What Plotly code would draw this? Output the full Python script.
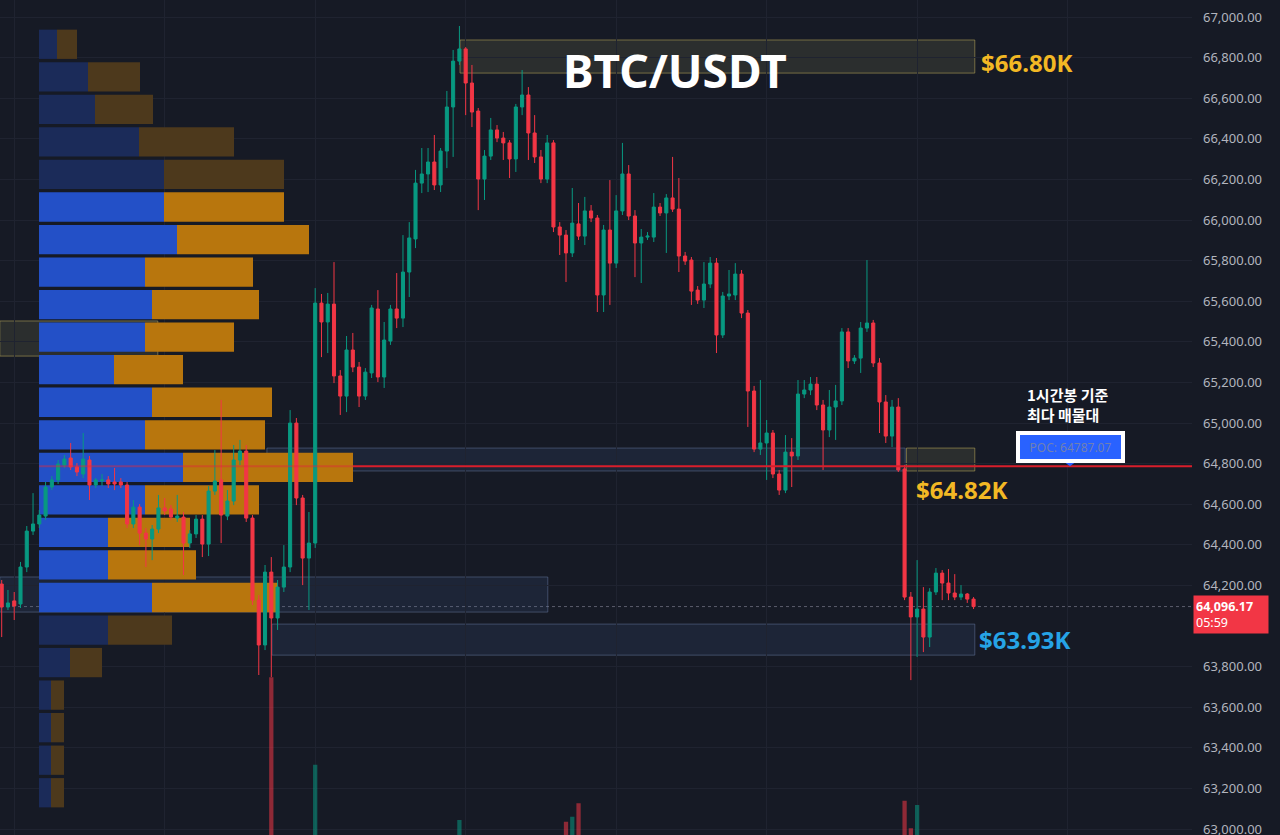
import plotly.graph_objects as go

# ---------------- data ----------------
opens = [64207,64094,64124,64109,64291,64468,64503,64542,64685,64720,64793,64828,64784,64749,64818,64695,64715,64720,64710,64710,
         64695,64503,64586,64458,64429,64478,64582,64577,64532,64537,64409,64454,64527,64404,64665,64720,64542,64616,64818,64862,
         64532,64128,63907,64266,64040,64192,64291,65000,64631,64335,64409,65591,65498,65586,65232,65133,65360,65276,65133,65247,
         65562,65227,65404,65562,65517,65744,65907,66182,66227,66286,66173,66340,66557,66783,66843,66675,66537,66202,66315,66444,
         66404,66380,66301,66557,66616,66429,66311,66202,66380,65966,65926,65838,65981,65921,66045,66010,65631,65951,65788,66045,
         66227,66020,65887,65916,65916,66064,66035,66109,66054,65823,65803,65655,65606,65685,65788,65434,65626,65631,65734,65542,
         65158,64872,64902,64951,64749,64670,64857,64838,65143,65163,65192,65089,64966,65079,65109,65449,65306,65320,65468,65493,
         65296,65104,64936,65079,64774,64143,64045,64084,63946,64168,64261,64212,64163,64143,64158,64133]
highs = [64227,64178,64168,64316,64493,64655,64572,64710,64739,64818,64843,64902,64803,64951,64838,64729,64749,64739,64779,64729,
         64710,64621,64601,64483,64498,64646,64631,64596,64646,64562,64473,64547,64547,64690,64867,65114,64670,64892,64917,64892,
         64547,64153,64301,64340,64227,64399,65064,65025,64646,64562,65665,65636,65641,65793,65261,65429,65444,65301,65271,65582,
         65655,65498,65582,65739,65926,65990,66247,66355,66355,66419,66355,66636,66838,66956,66852,66764,66552,66345,66503,66468,
         66434,66394,66572,66739,66655,66517,66345,66419,66394,65990,65951,66158,66084,66114,66074,66025,65976,66197,66123,66380,
         66271,66049,65956,65941,66133,66084,66128,66311,66207,65843,65818,65675,65793,65818,65813,65646,65754,65788,65754,65557,
         65183,65212,65015,64966,64769,64941,64926,65212,65212,65227,65227,65114,65163,65188,65468,65468,65335,65498,65803,65508,
         65320,65138,65114,65123,64793,64168,64325,64192,64187,64286,64276,64281,64256,64202,64163,64143]
lows = [63946,64079,64030,64089,64266,64449,64483,64522,64670,64700,64779,64769,64739,64729,64621,64680,64690,64680,64670,64680,
        64483,64483,64399,64291,64325,64458,64547,64522,64513,64252,64385,64434,64340,64345,64646,64409,64522,64596,64793,64513,
        64104,63759,63882,63749,63981,64168,64266,64596,64202,64079,64385,65325,65345,65197,65040,65054,65251,65079,65114,65222,
        65202,65173,65385,65468,65473,65621,65862,66133,66138,66148,66138,66256,66311,66764,66517,66458,66049,66099,66296,66384,
        66296,66207,66237,66517,66296,66281,66182,66182,65941,65828,65695,65818,65902,65877,65990,65547,65547,65582,65764,66025,
        66000,65719,65690,65902,65892,66020,65838,66040,65744,65779,65582,65587,65567,65665,65345,65419,65606,65606,65517,64981,
        64857,64843,64720,64729,64646,64655,64685,64818,65123,65138,65064,64769,64931,64917,65089,65271,65291,65247,65449,65276,
        64951,64902,64882,64759,64128,63734,63848,63872,63897,64153,64128,64128,64128,64128,64114,64084]
closes = [64094,64114,64099,64291,64468,64503,64547,64685,64720,64798,64823,64784,64759,64823,64695,64720,64720,64700,64700,64695,
          64503,64586,64458,64429,64478,64582,64567,64537,64542,64409,64454,64527,64404,64665,64715,64547,64616,64818,64862,64532,
          64128,63907,64266,64040,64192,64291,65000,64631,64335,64409,65591,65498,65586,65232,65133,65360,65276,65133,65251,65567,
          65227,65409,65562,65517,65744,65912,66182,66227,66286,66173,66340,66557,66783,66843,66675,66532,66202,66315,66444,66404,
          66380,66301,66557,66616,66429,66311,66202,66380,65966,65926,65838,65985,65921,66045,66010,65631,65951,65788,66045,66227,
          66020,65887,65916,65921,66064,66035,66109,66054,65823,65798,65650,65606,65685,65788,65434,65626,65636,65734,65542,65158,
          64872,64902,64951,64749,64670,64857,64838,65143,65163,65192,65089,64966,65079,65109,65449,65306,65320,65468,65493,65296,
          65104,64936,65079,64769,64143,64045,64084,63946,64168,64261,64212,64163,64143,64158,64133,64096.17]

# volume of the candles whose bars reach into view (candle index -> volume)
visible_volume = {43: 489, 50: 384, 73: 318, 90: 316, 91: 322, 92: 338, 144: 341, 145: 308, 146: 336}

# volume profile (top row first): buy and sell volume per price row
profile_high = 66946
profile_low = 63099
profile_buy = [18, 49, 56, 100, 125, 125, 138, 106, 113, 106, 75, 113, 106, 144, 106, 69, 69, 113, 69, 31, 12, 12, 12, 12]
profile_sell = [20, 52, 58, 95, 120, 120, 132, 108, 107, 89, 69, 120, 120, 170, 114, 82, 88, 126, 64, 32, 13, 13, 13, 13]
in_value_area = [False]*5 + [True]*13 + [False]*6

poc_price = 64787.07
last_price = 64096.17

# price-scale labels shown (64,000 sits under the last-price tag)
price_ticks = [63000, 63200, 63400, 63600, 63800, 64200, 64400, 64600, 64800, 65000, 65200, 65400,
               65600, 65800, 66000, 66200, 66400, 66600, 66800, 67000]

# drawn zones: (start candle, end candle, low, high, kind)
zones = [
    (73.1, 155.2, 66724, 66887, "gold"),
    (-0.3, 24.9, 65330, 65503, "gold"),
    (42.3, 144.1, 64764, 64877, "blue"),
    (144.3, 155.2, 64764, 64877, "gold"),
    (-0.3, 87.1, 64069, 64242, "blue"),
    (43.1, 155.2, 63857, 64010, "blue"),
]

# ---------------- styling ----------------
BG = "#161a25"
GRID = "#1f2330"
UP = "#089981"
DN = "#f23645"

N = len(opens)
idx = list(range(N))

fig = go.Figure()

# volume profile (base x axis, drawn beneath candles)
nrows = len(profile_buy)
row_h = (profile_high - profile_low) / nrows
row_centers = [profile_high - row_h * (k + 0.5) for k in range(nrows)]
buy_cols = ["#2350c7" if v else "#1b2b59" for v in in_value_area]
sell_cols = ["#b8760d" if v else "#4d391c" for v in in_value_area]
fig.add_trace(go.Bar(y=row_centers, x=profile_buy, orientation="h", width=row_h * 0.9,
                     marker=dict(color=buy_cols, line=dict(width=0)), xaxis="x", yaxis="y",
                     hoverinfo="skip", showlegend=False))
fig.add_trace(go.Bar(y=row_centers, x=profile_sell, base=profile_buy, orientation="h", width=row_h * 0.9,
                     marker=dict(color=sell_cols, line=dict(width=0)), xaxis="x", yaxis="y",
                     hoverinfo="skip", showlegend=False))

# volume bars
vols = [visible_volume.get(i) for i in idx]
vcols = ["rgba(8,153,129,0.55)" if closes[i] >= opens[i] else "rgba(242,54,69,0.55)" for i in idx]
fig.add_trace(go.Bar(x=idx, y=vols, marker=dict(color=vcols, line=dict(width=0)), width=0.68,
                     xaxis="x2", yaxis="y3", hoverinfo="skip", showlegend=False))

# candles
fig.add_trace(go.Candlestick(x=idx, open=opens, high=highs, low=lows, close=closes,
                             xaxis="x2", yaxis="y",
                             increasing=dict(line=dict(color=UP, width=1), fillcolor=UP),
                             decreasing=dict(line=dict(color=DN, width=1), fillcolor=DN),
                             whiskerwidth=0, showlegend=False, hoverinfo="skip"))

shapes = []
for x0, x1, lo, hi, kind in zones:
    if kind == "gold":
        fc, lc = "rgba(120,118,80,0.22)", "rgba(185,170,90,0.55)"
    else:
        fc, lc = "rgba(70,100,150,0.16)", "rgba(110,130,170,0.45)"
    shapes.append(dict(type="rect", xref="x2", yref="y", x0=x0, x1=x1, y0=lo, y1=hi,
                       fillcolor=fc, line=dict(color=lc, width=1), layer="below"))

poc_row = min(range(nrows), key=lambda k: abs(row_centers[k] - poc_price))
poc_end = profile_buy[poc_row] + profile_sell[poc_row]
shapes.append(dict(type="line", xref="x", yref="y", x0=0, x1=poc_end, y0=poc_price, y1=poc_price,
                   line=dict(color="rgba(225,40,60,0.45)", width=2), layer="above"))
shapes.append(dict(type="line", xref="x", yref="y", x0=poc_end, x1=1153, y0=poc_price, y1=poc_price,
                   line=dict(color="#d91e2b", width=2), layer="above"))
shapes.append(dict(type="line", xref="paper", yref="y", x0=0, x1=1, y0=last_price, y1=last_price,
                   line=dict(color="rgba(150,150,165,0.55)", width=1, dash="dot"), layer="below"))
# small pointer under the POC tag
shapes.append(dict(type="path", xref="paper", yref="y",
                   path="M %f,%f L %f,%f L %f,%f Z" % (1064 / 1192, poc_price + 22, 1076 / 1192, poc_price + 22,
                                                       1070 / 1192, poc_price),
                   fillcolor="#2962ff", line=dict(width=0), layer="above"))

GOLD = "#f2b824"
annotations = [
    dict(xref="paper", yref="paper", x=0.566, y=0.916, xanchor="center", yanchor="middle", text="BTC/USDT",
         showarrow=False, font=dict(family="Noto Sans", size=46, color="white", weight=700)),
    dict(xref="x2", yref="y", x=155.2, y=66805, xanchor="left", xshift=4, yshift=-6, text="$66.80K",
         showarrow=False, font=dict(family="Noto Sans", size=24, color=GOLD, weight=700)),
    dict(xref="x2", yref="y", x=144.3, y=64675, xanchor="left", xshift=8, text="$64.82K",
         showarrow=False, font=dict(family="Noto Sans", size=24, color=GOLD, weight=700)),
    dict(xref="x2", yref="y", x=155.2, y=63933, xanchor="left", xshift=2, text="$63.93K",
         showarrow=False, font=dict(family="Noto Sans", size=24, color="#26a4e6", weight=700)),
    dict(xref="paper", yref="paper", x=1025 / 1192, y=1 - 404 / 835, xanchor="left", yanchor="middle",
         align="left", text="1시간봉 기준<br>최다 매물대", showarrow=False,
         font=dict(family="Noto Sans CJK KR", size=15, color="white", weight=700)),
    dict(xref="paper", yref="paper", x=1070 / 1192, y=1 - 447 / 835, xanchor="center", yanchor="middle",
         text="POC: 64787.07", showarrow=False,
         bgcolor="#2962ff", bordercolor="white", borderwidth=4, borderpad=3, width=95, height=18,
         font=dict(family="Noto Sans", size=12, color="#6f80b3")),
    dict(xref="paper", yref="y", x=1193 / 1192, y=last_price, xanchor="left", yanchor="middle", yshift=-8,
         text="<b>64,096.17</b><br>05:59", align="left", showarrow=False, bgcolor="#f23645",
         width=70, borderpad=2, font=dict(family="Noto Sans", size=12.5, color="white")),
]

fig.update_layout(
    width=1280, height=835, margin=dict(l=0, r=88, t=0, b=0, autoexpand=False),
    paper_bgcolor=BG, plot_bgcolor=BG, barmode="overlay", showlegend=False,
    xaxis=dict(range=[-39, 1153], visible=False, fixedrange=True, rangeslider=dict(visible=False),
               automargin=False),
    xaxis2=dict(overlaying="x", range=[-0.27, 189.84], tickvals=[2, 26, 50, 74, 98, 122, 146, 170],
                showticklabels=False, ticks="", showgrid=True, gridcolor=GRID, gridwidth=1,
                zeroline=False, rangeslider=dict(visible=False), automargin=False),
    yaxis=dict(side="right", range=[62971, 67084], tickvals=price_ticks, tickformat=",.2f",
               showgrid=True, gridcolor=GRID, zeroline=False, ticks="", ticklabelstandoff=10,
               ticklabeloverflow="allow", automargin=False,
               tickfont=dict(family="Noto Sans", size=13, color="#b2b5be")),
    yaxis3=dict(overlaying="y", range=[300, 1300], visible=False),
    shapes=shapes, annotations=annotations,
)

fig.write_html("out.html")
